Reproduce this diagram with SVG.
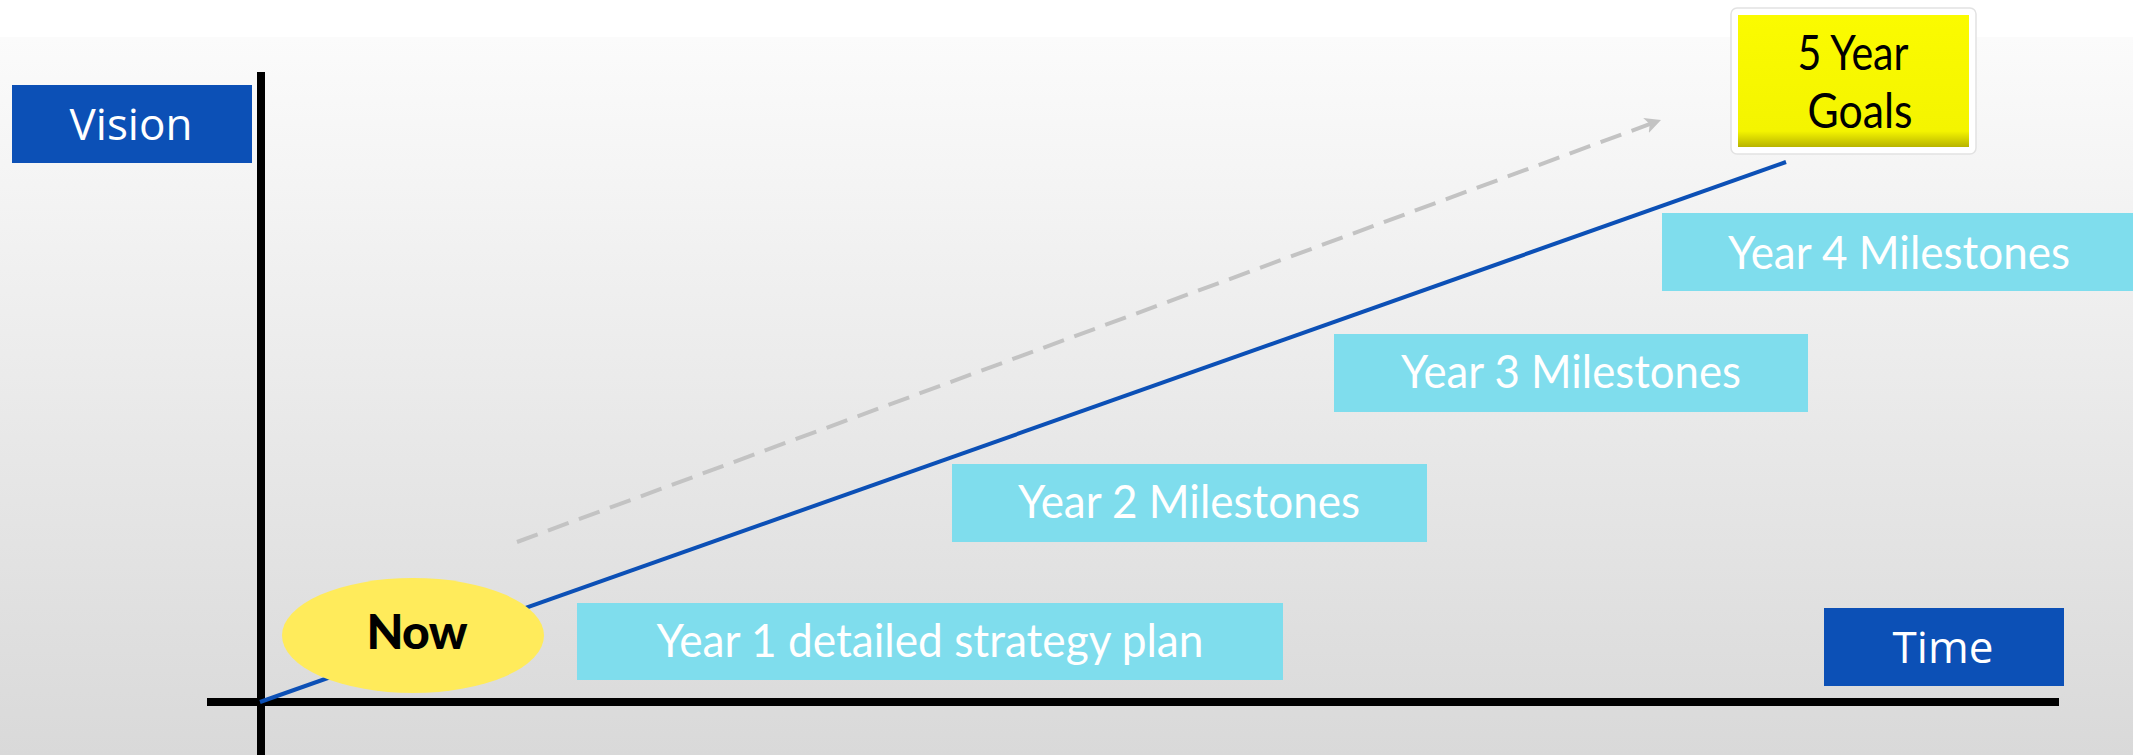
<svg xmlns="http://www.w3.org/2000/svg" width="2133" height="755" viewBox="0 0 2133 755">
<defs>
<linearGradient id="bg" x1="0" y1="0" x2="0" y2="1">
<stop offset="0" stop-color="#fbfbfb"/>
<stop offset="1" stop-color="#d9d9d9"/>
</linearGradient>
<linearGradient id="yel" x1="0" y1="0" x2="0" y2="1">
<stop offset="0" stop-color="#fbfb00"/>
<stop offset="0.88" stop-color="#f4f400"/>
<stop offset="1" stop-color="#b8b400"/>
</linearGradient>
<marker id="arr" viewBox="0 0 10 10" refX="8" refY="5" markerWidth="4" markerHeight="4" orient="auto" markerUnits="strokeWidth">
<path d="M0,0 L10,5 L0,10 L2.5,5 Z" fill="#c3c3c3"/>
</marker>
<style>
.dark{fill:#0c50b6}
.cyan{fill:#7fdded}
.wt{font-family:"Open Sans","Noto Sans",sans-serif;font-size:44px;fill:#ffffff;text-anchor:middle}
.mt{font-family:Lato,"Liberation Sans",sans-serif;font-size:46px;fill:#ffffff;text-anchor:middle}
.bk{font-family:Lato,"Liberation Sans",sans-serif;font-size:48px;fill:#000000;text-anchor:middle}
</style>
</defs>
<rect x="0" y="0" width="2133" height="755" fill="#ffffff"/>
<rect x="0" y="37" width="2133" height="718" fill="url(#bg)"/>

<g id="connectors">
<line x1="261" y1="72" x2="261" y2="755" stroke="#000" stroke-width="8"/>
<line x1="207" y1="702" x2="2059" y2="702" stroke="#000" stroke-width="8"/>
<line x1="260" y1="702" x2="1786" y2="162" stroke="#0c50b6" stroke-width="4"/>
<line x1="517" y1="542" x2="1658" y2="121" stroke="#c3c3c3" stroke-width="4" stroke-dasharray="22,11" marker-end="url(#arr)"/>
</g>

<g id="vision">
<rect class="dark" x="12" y="85" width="240" height="78"/>
<text class="wt" x="131" y="140">Vision</text>
</g>

<g id="time">
<rect class="dark" x="1824" y="608" width="240" height="78"/>
<text class="wt" x="1943" y="663">Time</text>
</g>

<g id="goals">
<rect x="1731" y="8" width="245" height="146" rx="6" fill="#ffffff" stroke="#e2e2e2" stroke-width="1.5"/>
<rect x="1738" y="15" width="231" height="132" fill="url(#yel)"/>
<text class="bk" x="1853" y="70" textLength="111" lengthAdjust="spacingAndGlyphs">5 Year</text>
<text class="bk" x="1860" y="128" textLength="105" lengthAdjust="spacingAndGlyphs">Goals</text>
</g>

<g id="now">
<ellipse cx="413" cy="635.5" rx="131" ry="57.5" fill="#ffeb5b"/>
<text x="417" y="649" font-family="Lato,'Liberation Sans',sans-serif" font-weight="900" font-size="48" text-anchor="middle" fill="#000" textLength="101">Now</text>
</g>

<g id="year1">
<rect class="cyan" x="577" y="603" width="706" height="77"/>
<text class="mt" x="930" y="657" textLength="547" lengthAdjust="spacingAndGlyphs">Year 1 detailed strategy plan</text>
</g>

<g id="year2">
<rect class="cyan" x="952" y="464" width="475" height="78"/>
<text class="mt" x="1189" y="518" textLength="342" lengthAdjust="spacingAndGlyphs">Year 2 Milestones</text>
</g>

<g id="year3">
<rect class="cyan" x="1334" y="334" width="474" height="78"/>
<text class="mt" x="1571" y="388" textLength="340" lengthAdjust="spacingAndGlyphs">Year 3 Milestones</text>
</g>

<g id="year4">
<rect class="cyan" x="1662" y="213" width="471" height="78"/>
<text class="mt" x="1899" y="269" textLength="342" lengthAdjust="spacingAndGlyphs">Year 4 Milestones</text>
</g>
</svg>
